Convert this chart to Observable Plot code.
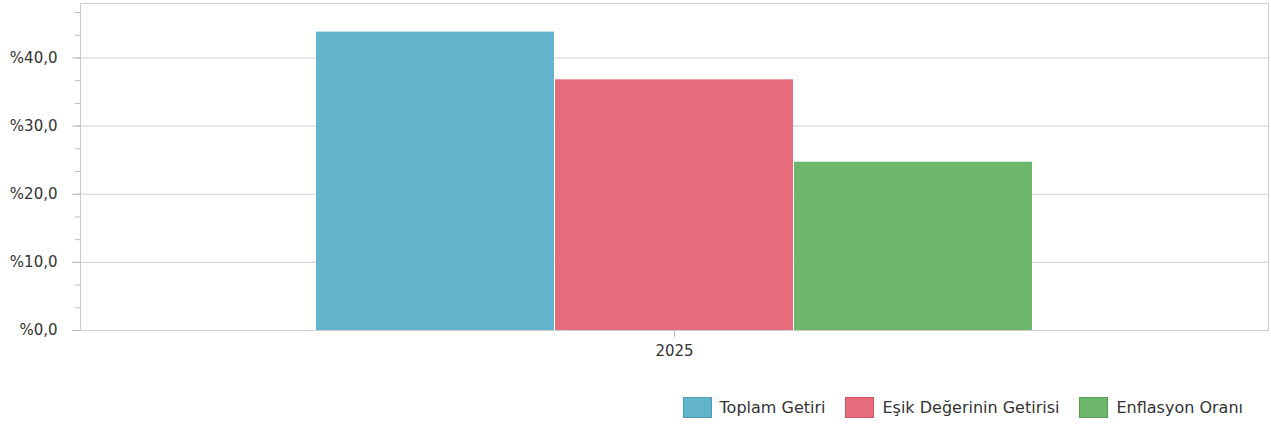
<!DOCTYPE html>
<html><head><meta charset="utf-8">
<script src="https://cdn.jsdelivr.net/npm/d3@7"></script>
<script src="https://cdn.jsdelivr.net/npm/@observablehq/plot@0.6"></script>
<style>
body{margin:0;background:#fff;font-family:"DejaVu Sans",sans-serif;}
#legend{display:flex;justify-content:flex-end;align-items:center;padding-right:28px;margin-top:31px;font-size:16px;color:#333;height:21px;}
#legend .item{display:flex;align-items:center;margin-left:20px;}
#legend .sw{width:29px;height:21px;box-sizing:border-box;margin-right:8px;}
</style></head><body>
<div id="chart"></div>
<div id="legend"></div>
<script>
const year = "2025";
const series = ["Toplam Getiri", "Eşik Değerinin Getirisi", "Enflasyon Oranı"];
const values = [43.8, 36.8, 24.7];
const colors = ["#62b3cc", "#e66b7d", "#6cb76b"];
const borders = ["#4f9db5", "#cc5668", "#58a058"];
const yTicks = [0, 10, 20, 30, 40];
const minorTicks = d3.range(0, 48, 10/3);

const data = series.map((s, i) => ({series: s, value: values[i], year}));
const fmt = v => "%" + v.toFixed(1).replace(".", ",");

const plot = Plot.plot({
  width: 1271, height: 366,
  marginLeft: 80, marginRight: 3, marginTop: 3, marginBottom: 36,
  style: {fontFamily: "DejaVu Sans, sans-serif", fontSize: "15px", color: "#333"},
  x: {domain: series, paddingInner: 0.005, paddingOuter: 0.985, axis: null},
  y: {domain: [0, 48], axis: null},
  color: {domain: series, range: colors},
  marks: [
    Plot.ruleY(yTicks, {stroke: "#cfcfcf"}),
    Plot.barY(data, {x: "series", y: "value", fill: "series", inset: 0}),
    Plot.frame({stroke: "#cccccc"}),
    Plot.axisY({ticks: minorTicks, tickSize: 5, text: null, stroke: "#bbb", label: null}),
    Plot.axisY({ticks: yTicks, tickSize: 8, tickPadding: 15, tickFormat: fmt, stroke: "#bbb", fill: "#333", label: null}),
    Plot.axisX({ticks: [series[1]], tickSize: 7, tickPadding: 8, tickFormat: () => year, stroke: "#bbb", fill: "#333", label: null})
  ]
});
document.getElementById("chart").appendChild(plot);

const lg = document.getElementById("legend");
series.forEach((s, i) => {
  const it = document.createElement("div"); it.className = "item";
  const sw = document.createElement("div"); sw.className = "sw";
  sw.style.background = colors[i]; sw.style.border = "1px solid " + borders[i];
  const t = document.createElement("span"); t.textContent = s;
  it.appendChild(sw); it.appendChild(t); lg.appendChild(it);
});
</script>
</body></html>
